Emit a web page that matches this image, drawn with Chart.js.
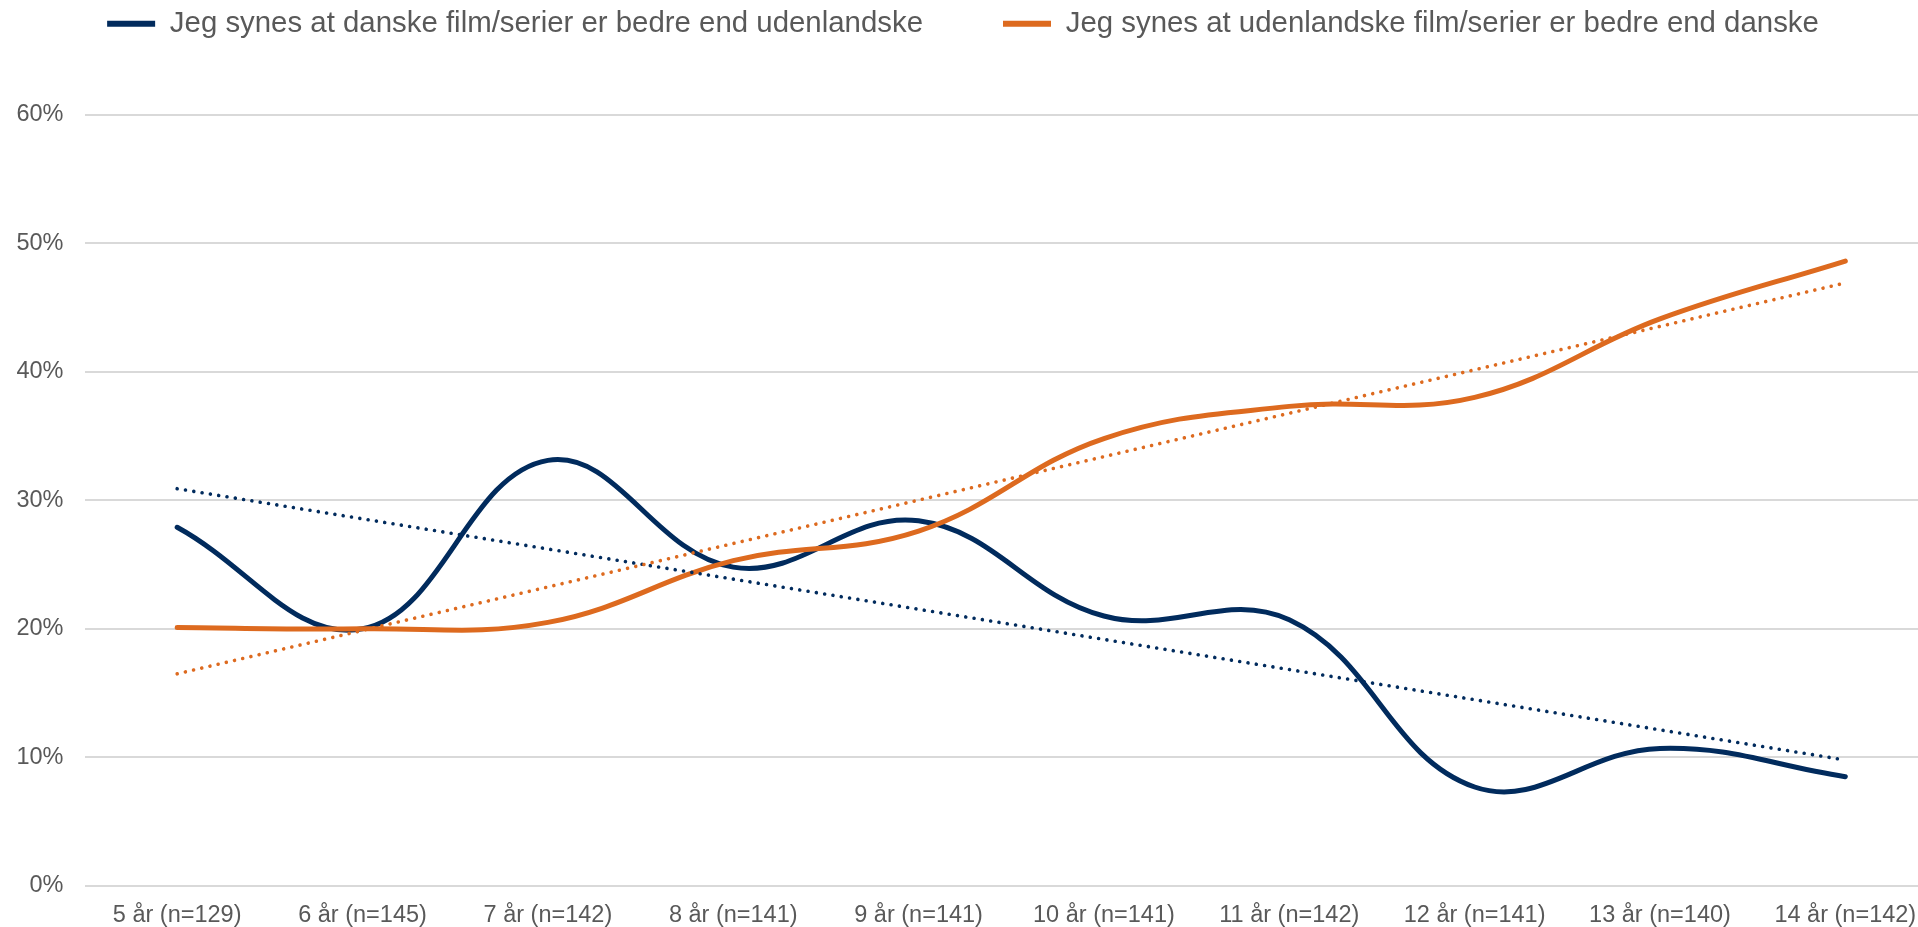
<!DOCTYPE html>
<html>
<head>
<meta charset="utf-8">
<script src="https://cdn.jsdelivr.net/npm/chart.js@4.4.1/dist/chart.umd.min.js"></script>
<style>
  html, body { margin: 0; padding: 0; overflow: hidden; background: #ffffff; }
  #wrap { width: 1938px; height: 927px; }
</style>
</head>
<body>
<div id="wrap"><canvas id="c" width="1938" height="927"></canvas></div>
<script>
// ---- Data ----
const categories = ["5 år (n=129)", "6 år (n=145)", "7 år (n=142)", "8 år (n=141)", "9 år (n=141)",
                    "10 år (n=141)", "11 år (n=142)", "12 år (n=141)", "13 år (n=140)", "14 år (n=142)"];
const seriesNames = ["Jeg synes at danske film/serier er bedre end udenlandske",
                     "Jeg synes at udenlandske film/serier er bedre end danske"];
const danskeBedre = [27.9, 20.0, 33.1, 24.8, 28.4, 21.0, 20.7, 7.7, 10.7, 8.5];
const udenlandskeBedre = [20.1, 20.0, 20.5, 25.3, 27.6, 34.8, 37.3, 38.0, 44.1, 48.6];
// Linear trendlines: values at first and last category
const danskeTrend = [30.9, null, null, null, null, null, null, null, null, 9.8];
const udenlandskeTrend = [16.5, null, null, null, null, null, null, null, null, 46.9];
const yTicks = [0, 10, 20, 30, 40, 50, 60];

const NAVY = "#012b5d";
const ORANGE = "#dd6a1f";
const TEXT = "#595959";
const FONT = "'Liberation Sans', Arial, sans-serif";

const ctx = document.getElementById("c").getContext("2d");
new Chart(ctx, {
  type: "line",
  data: {
    labels: categories,
    datasets: [
      { label: seriesNames[0], data: danskeBedre, borderColor: NAVY, backgroundColor: NAVY,
        borderWidth: 5, pointRadius: 0, tension: 0.4, borderCapStyle: "round", order: 4 },
      { label: seriesNames[1], data: udenlandskeBedre, borderColor: ORANGE, backgroundColor: ORANGE,
        borderWidth: 5, pointRadius: 0, tension: 0.4, borderCapStyle: "round", order: 3 },
      { label: "trend1", data: danskeTrend, borderColor: NAVY, borderWidth: 3.6, pointRadius: 0,
        spanGaps: true, borderDash: [0.01, 8.4], borderCapStyle: "round", order: 2 },
      { label: "trend2", data: udenlandskeTrend, borderColor: ORANGE, borderWidth: 3.6, pointRadius: 0,
        spanGaps: true, borderDash: [0.01, 8.4], borderCapStyle: "round", order: 1 }
    ]
  },
  options: {
    responsive: false,
    animation: false,
    devicePixelRatio: 1,
    layout: { padding: { top: -71, left: 0, right: 0, bottom: 0 } },
    plugins: {
      tooltip: { enabled: false },
      legend: {
        position: "top",
        labels: {
          color: TEXT,
          font: { family: FONT, size: 29.4 },
          boxWidth: 48,
          boxHeight: 6,
          padding: 80,
          filter: (item) => item.datasetIndex < 2,
          sort: (a, b) => a.datasetIndex - b.datasetIndex,
          generateLabels: (chart) => {
            const items = Chart.defaults.plugins.legend.labels.generateLabels(chart);
            return items.map(it => Object.assign(it, { lineWidth: 0 }));
          }
        }
      }
    },
    scales: {
      x: {
        offset: true,
        grid: { display: false, drawTicks: false },
        border: { display: false },
        ticks: { color: TEXT, font: { family: FONT, size: 23.5 }, padding: 15.5, maxRotation: 0, autoSkip: false },
        afterFit: (s) => { s.height = 41; }
      },
      y: {
        min: 0, max: 60,
        afterBuildTicks: (s) => { s.ticks = yTicks.map(v => ({ value: v })); },
        grid: { color: "#d9d9d9", lineWidth: 2, drawTicks: false },
        border: { display: false },
        ticks: { color: TEXT, font: { family: FONT, size: 23.5 }, padding: 21, callback: (v) => v + "%" },
        afterFit: (s) => { s.width = 84.5; }
      }
    }
  },
  plugins: [{
    id: "legendHeight",
    beforeLayout(chart) {
      const lg = chart.legend;
      if (lg && !lg._patched) {
        const f = lg.fit.bind(lg);
        lg.fit = function () { f(); this.height = 114.5 + 71; };
        lg._patched = true;
      }
    },
    afterLayout(chart) {
      const lg = chart.legend;
      if (lg) { lg.left -= 6; lg.right -= 6; }
    }
  }]
});
</script>
</body>
</html>
